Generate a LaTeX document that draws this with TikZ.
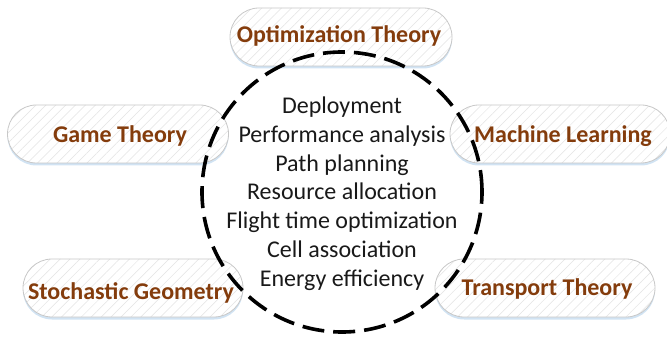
\documentclass[tikz,border=0pt]{standalone}
\usepackage{fontspec}
\setmainfont{Carlito}
\usetikzlibrary{patterns.meta,shadows}
\definecolor{labbrown}{HTML}{843C0C}
\definecolor{pillborder}{HTML}{C8C8C8}
\definecolor{shadowblue}{HTML}{BDD7EE}
\begin{document}
\begin{tikzpicture}[x=1pt,y=-1pt,
  pill/.style={draw=pillborder, line width=0.8pt, rounded corners=29pt,
    minimum height=58pt, inner sep=0pt,
    preaction={fill=white, drop shadow={shadow xshift=0pt, shadow yshift=-2.5pt, fill=shadowblue, opacity=0.7}},
    pattern={Lines[angle=45,distance=7pt,line width=0.5pt]}, pattern color=black!11},
  lab/.style={font=\fontsize{24}{28}\selectfont\bfseries, text=labbrown, inner sep=0pt, anchor=base},
  topic/.style={font=\fontsize{24}{28}\selectfont, text=black!90, inner sep=0pt, anchor=base},
  ring/.style={draw=black, line width=3.6pt, dash pattern=on 22pt off 9pt}
]
\useasboundingbox (0,0) rectangle (667,339);
\node[pill, minimum width=222pt] (opt) at (341,37) {};
\node[pill, minimum width=221pt] (game) at (118,134) {};
\node[pill, minimum width=220pt] (ml) at (560,134) {};
\node[pill, minimum width=220pt] (stoch) at (133,288) {};
\node[pill, minimum width=220pt] (trans) at (545,288) {};
\node[lab] (optt) at (339,43) {Optimization Theory};
\node[lab] (gamet) at (120,143) {Game Theory};
\node[lab] (mlt) at (563,143) {Machine Learning};
\node[lab] (stocht) at (131,299) {Stochastic Geometry};
\node[lab] (transt) at (547,295) {Transport Theory};
\node[circle, minimum size=280pt, inner sep=0pt] (c) at (342,192) {};
\draw[ring] (c.center) circle[radius=140pt];
\node[topic] (t1) at (342,114) {Deployment};
\node[topic] (t2) at (342,143) {Performance analysis};
\node[topic] (t3) at (342,172) {Path planning};
\node[topic] (t4) at (342,200) {Resource allocation};
\node[topic] (t5) at (342,229) {Flight time optimization};
\node[topic] (t6) at (342,258) {Cell association};
\node[topic] (t7) at (342,287) {Energy efficiency};
\end{tikzpicture}
\end{document}
